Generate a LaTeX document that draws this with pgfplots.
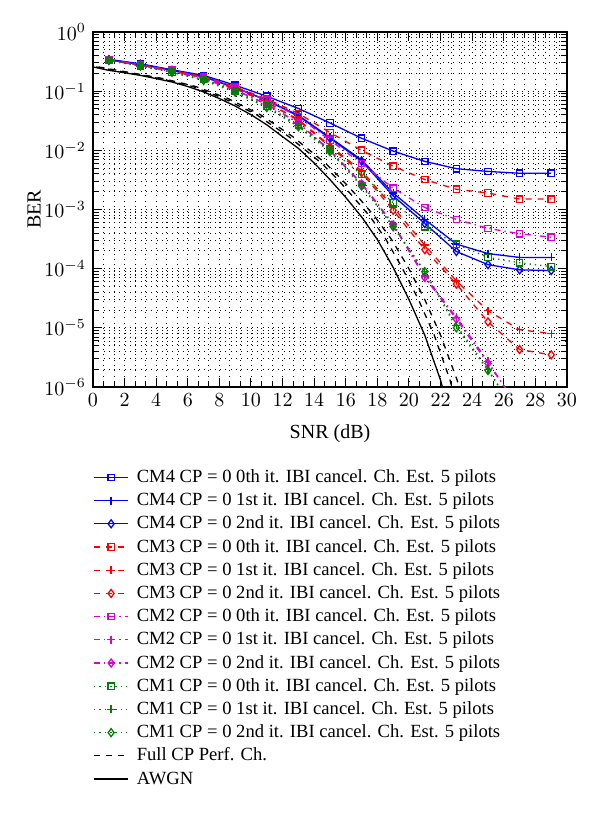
\documentclass[border=0pt]{standalone}
\usepackage{fontspec}
\setmainfont{Liberation Serif}
\usepackage{pgfplots}
\pgfplotsset{compat=1.18}

\definecolor{mblue}{rgb}{0,0,1}
\definecolor{mred}{rgb}{1,0,0}
\definecolor{mmag}{rgb}{0.85,0,0.85}
\definecolor{mgreen}{rgb}{0,0.5,0}

\begin{document}
\begin{tikzpicture}
\begin{axis}[
  scale only axis, width=237pt, height=177.5pt,
  ymode=log, xmin=0, xmax=30, ymin=1e-6, ymax=1,
  xtick={0,2,...,30}, minor x tick num=2,
  ytick={1e-6,1e-5,1e-4,1e-3,1e-2,1e-1,1},
  grid=both,
  major grid style={black, line width=0.45pt, dash pattern=on 0.45pt off 2.2pt},
  minor grid style={black, line width=0.45pt, dash pattern=on 0.45pt off 2.2pt},
  tick align=inside, axis line style={line width=0.8pt},
  tick style={black, line width=0.5pt},
  ticklabel style={font=\fontsize{10}{12}\selectfont},
  xlabel={SNR (dB)}, ylabel={BER},
  xlabel shift=2pt, ylabel shift=-5pt,
  label style={font=\fontsize{10}{12}\selectfont},
  every axis plot/.append style={line width=0.65pt},
  legend cell align=left,
  legend style={at={(rel axis cs:0,0)}, anchor=north west, yshift=-39.5pt,
    draw=none, fill=none, inner sep=0pt, row sep=0.6pt, column sep=3pt,
    font=\fontsize{9.3}{11}\selectfont,
    nodes={inner sep=1pt, text height=7pt, text depth=2pt}},
]
% CM4 (solid, blue)
\addplot[mblue, mark=square, mark size=1.6pt, mark options={solid}] coordinates {
  (1,0.345) (3,0.29) (5,0.23) (7,0.185) (9,0.126) (11,0.082) (13,0.051) (15,0.029)
  (17,0.016) (19,0.0097) (21,0.0065) (23,0.0049) (25,0.0044) (27,0.0041) (29,0.0041)};
\addlegendentry{CM4 CP = 0 0th it. IBI cancel. Ch. Est. 5 pilots}
\addplot[mblue, mark=+, mark size=2pt, mark options={solid}] coordinates {
  (1,0.34) (3,0.285) (5,0.225) (7,0.175) (9,0.115) (11,0.07) (13,0.039) (15,0.0165)
  (17,0.0069) (19,0.0019) (21,0.00068) (23,0.00026) (25,0.00018) (27,0.000155) (29,0.000155)};
\addlegendentry{CM4 CP = 0 1st it. IBI cancel. Ch. Est. 5 pilots}
\addplot[mblue, mark=diamond, mark size=2pt, mark options={solid}] coordinates {
  (1,0.34) (3,0.285) (5,0.225) (7,0.175) (9,0.115) (11,0.07) (13,0.038) (15,0.016)
  (17,0.0066) (19,0.0017) (21,0.00058) (23,0.000195) (25,0.000117) (27,0.0000955) (29,0.000093)};
\addlegendentry{CM4 CP = 0 2nd it. IBI cancel. Ch. Est. 5 pilots}
% CM3 (dashed, red)
\addplot[mred, dashed, mark=square, mark size=1.6pt, mark options={solid}] coordinates {
  (1,0.34) (3,0.28) (5,0.225) (7,0.175) (9,0.118) (11,0.074) (13,0.042) (15,0.020)
  (17,0.010) (19,0.0054) (21,0.0032) (23,0.0022) (25,0.0019) (27,0.0015) (29,0.0015)};
\addlegendentry{CM3 CP = 0 0th it. IBI cancel. Ch. Est. 5 pilots}
\addplot[mred, dashed, mark=+, mark size=2pt, mark options={solid}] coordinates {
  (1,0.335) (3,0.275) (5,0.22) (7,0.17) (9,0.11) (11,0.065) (13,0.033) (15,0.012)
  (17,0.0045) (19,0.0011) (21,0.00025) (23,0.000062) (25,0.0000195) (27,0.0000093) (29,0.000008)};
\addlegendentry{CM3 CP = 0 1st it. IBI cancel. Ch. Est. 5 pilots}
\addplot[mred, dashed, mark=diamond, mark size=2pt, mark options={solid}] coordinates {
  (1,0.335) (3,0.275) (5,0.22) (7,0.17) (9,0.11) (11,0.065) (13,0.032) (15,0.0115)
  (17,0.0042) (19,0.00097) (21,0.00021) (23,0.000055) (25,0.0000126) (27,0.0000043) (29,0.0000035)};
\addlegendentry{CM3 CP = 0 2nd it. IBI cancel. Ch. Est. 5 pilots}
% CM2 (dash-dot, magenta)
\addplot[mmag, dashdotted, mark=square, mark size=1.6pt, mark options={solid}] coordinates {
  (1,0.34) (3,0.28) (5,0.225) (7,0.172) (9,0.115) (11,0.07) (13,0.037) (15,0.0148)
  (17,0.006) (19,0.0023) (21,0.00108) (23,0.00068) (25,0.00048) (27,0.00039) (29,0.00034)};
\addlegendentry{CM2 CP = 0 0th it. IBI cancel. Ch. Est. 5 pilots}
\addplot[mmag, dashdotted, mark=+, mark size=2pt, mark options={solid}] coordinates {
  (1,0.335) (3,0.272) (5,0.215) (7,0.163) (9,0.105) (11,0.06) (13,0.029) (15,0.010)
  (17,0.0028) (19,0.00057) (21,0.000075) (23,0.000015) (25,0.0000027) (27,0.0000004)};
\addlegendentry{CM2 CP = 0 1st it. IBI cancel. Ch. Est. 5 pilots}
\addplot[mmag, dashdotted, mark=diamond, mark size=2pt, mark options={solid}] coordinates {
  (1,0.335) (3,0.272) (5,0.215) (7,0.163) (9,0.105) (11,0.06) (13,0.029) (15,0.0098)
  (17,0.0027) (19,0.00055) (21,0.000071) (23,0.000014) (25,0.0000025) (27,0.00000045)};
\addlegendentry{CM2 CP = 0 2nd it. IBI cancel. Ch. Est. 5 pilots}
% CM1 (dotted, green)
\addplot[mgreen, dotted, mark=square, mark size=1.6pt, mark options={solid}] coordinates {
  (1,0.33) (3,0.268) (5,0.21) (7,0.158) (9,0.1) (11,0.056) (13,0.027) (15,0.0105)
  (17,0.0039) (19,0.0013) (21,0.00051) (23,0.00026) (25,0.000155) (27,0.000126) (29,0.000108)};
\addlegendentry{CM1 CP = 0 0th it. IBI cancel. Ch. Est. 5 pilots}
\addplot[mgreen, dotted, mark=+, mark size=2pt, mark options={solid}] coordinates {
  (1,0.33) (3,0.265) (5,0.208) (7,0.155) (9,0.097) (11,0.054) (13,0.026) (15,0.0098)
  (17,0.0026) (19,0.00052) (21,0.00009) (23,0.000011) (25,0.000002) (27,0.0000003)};
\addlegendentry{CM1 CP = 0 1st it. IBI cancel. Ch. Est. 5 pilots}
\addplot[mgreen, dotted, mark=diamond, mark size=2pt, mark options={solid}] coordinates {
  (1,0.33) (3,0.265) (5,0.208) (7,0.152) (9,0.096) (11,0.053) (13,0.025) (15,0.0095)
  (17,0.0025) (19,0.00051) (21,0.000089) (23,0.00001) (25,0.0000019) (27,0.0000003)};
\addlegendentry{CM1 CP = 0 2nd it. IBI cancel. Ch. Est. 5 pilots}
% Full CP, perfect channel (two dashed curves)
\addplot[black, dashed] coordinates {
  (0.2,0.257) (2.2,0.205) (4.25,0.163) (6.3,0.12) (8.3,0.075) (10.35,0.040) (12.4,0.017)
  (14.45,0.0061) (15.5,0.0032) (16.5,0.0016) (17.55,0.00075) (18.55,0.00031)
  (19.55,0.000105) (20.6,0.00003) (21.6,0.0000075) (22.6,0.0000013) (23.1,0.0000004)};
\addlegendentry{Full CP Perf. Ch.}
% AWGN
\addplot[black, solid] coordinates {
  (0,0.257) (1,0.225) (2,0.205) (3,0.185) (4,0.163) (5,0.143) (6,0.12) (7,0.097)
  (8,0.075) (9,0.056) (10,0.040) (11,0.027) (12,0.017) (13,0.0108) (14,0.0061)
  (15,0.0032) (16,0.0016) (17,0.00075) (18,0.00031) (19,0.000105) (20,0.00003)
  (21,0.0000075) (22,0.0000013) (22.5,0.0000004)};
\addlegendentry{AWGN}
\addplot[black, dashed, forget plot] coordinates {
  (0.35,0.257) (2.4,0.205) (4.45,0.163) (6.5,0.12) (8.55,0.075) (10.6,0.040) (12.65,0.017)
  (14.7,0.0061) (15.75,0.0032) (16.8,0.0016) (17.85,0.00075) (18.9,0.00031)
  (19.95,0.000105) (21.0,0.00003) (22.0,0.0000075) (23.05,0.0000013) (23.6,0.0000004)};
\end{axis}
\path[use as bounding box] (-46.5pt,-214pt) rectangle (253.5pt,193.5pt);
\end{tikzpicture}
\end{document}
